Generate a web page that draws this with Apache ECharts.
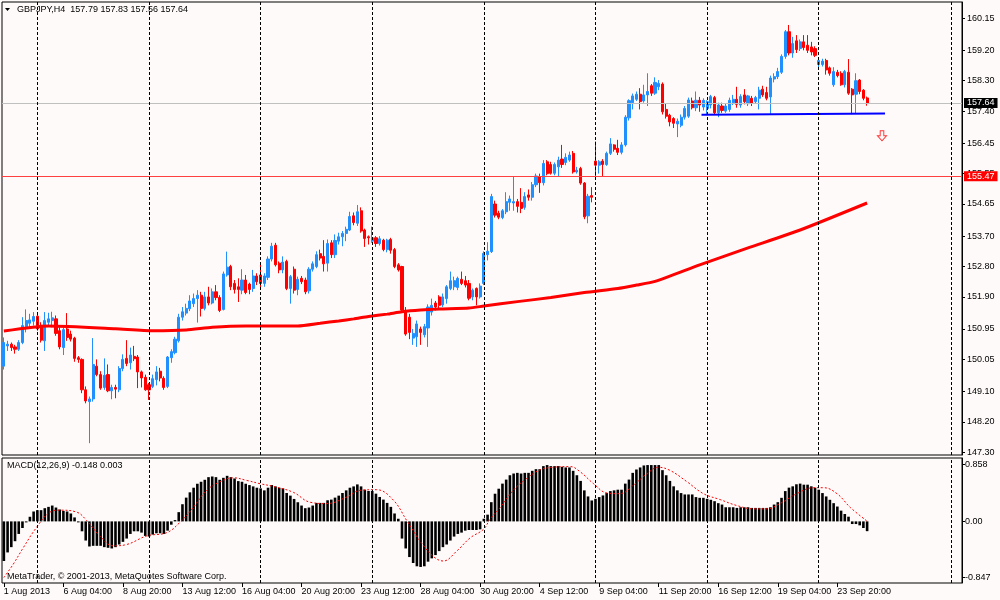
<!DOCTYPE html>
<html>
<head>
<meta charset="utf-8">
<title>GBPJPY,H4</title>
<script src="https://cdn.jsdelivr.net/npm/echarts@6/dist/echarts.min.js"></script>
<style>
  html, body { margin: 0; padding: 0; background: #fffafa; }
  #chart { width: 1000px; height: 600px; }
</style>
</head>
<body>
<div id="chart"></div>
<script>
// time axis labels, one every 16 bars (H4)
var xTickLabels = ['1 Aug 2013', '6 Aug 04:00', '8 Aug 20:00', '13 Aug 12:00', '16 Aug 04:00',
  '20 Aug 20:00', '23 Aug 12:00', '28 Aug 04:00', '30 Aug 20:00', '4 Sep 12:00', '9 Sep 04:00',
  '11 Sep 20:00', '16 Sep 12:00', '19 Sep 04:00', '23 Sep 20:00'];
var slotCount = 258; // 233 bars + empty room on the right

// OHLC, 233 bars
var opens = [
  149.85, 150.45, 150.50, 150.42, 150.35, 150.55, 150.98, 151.12, 151.18, 151.33,
  151.06, 150.60, 151.15, 151.20, 151.25, 150.90, 150.40, 150.95, 150.80, 150.68,
  150.10, 150.05, 149.15, 148.80, 148.88, 149.85, 149.60, 149.22, 149.60, 149.12,
  149.22, 149.15, 149.78, 150.08, 149.95, 150.14, 150.12, 149.68, 149.52, 149.30,
  149.25, 149.45, 149.70, 149.49, 149.25, 150.10, 150.25, 150.60, 151.30, 151.42,
  151.55, 151.70, 151.85, 151.95, 151.56, 151.90, 151.72, 152.05, 151.88, 151.53,
  152.55, 152.80, 152.30, 152.20, 152.10, 152.40, 152.28, 152.15, 152.52, 152.55,
  152.30, 152.48, 153.02, 153.43, 152.90, 152.70, 152.95, 152.15, 152.72, 152.12,
  152.45, 152.40, 152.08, 152.72, 152.80, 153.18, 153.10, 152.90, 153.50, 153.15,
  153.55, 153.68, 153.78, 153.88, 154.30, 154.08, 154.45, 153.88, 153.68, 153.55,
  153.65, 153.48, 153.58, 153.30, 153.60, 153.30, 152.85, 152.80, 151.50, 151.30,
  150.68, 150.72, 150.95, 150.78, 150.98, 151.45, 151.72, 151.90, 151.66, 151.85,
  152.15, 152.20, 152.18, 152.42, 152.38, 152.30, 151.90, 152.15, 151.90, 152.30,
  153.15, 153.24, 154.65, 154.38, 154.25, 154.42, 154.70, 154.68, 154.72, 154.70,
  154.55, 154.92, 154.85, 155.22, 155.45, 155.28, 155.90, 155.82, 155.56, 155.75,
  155.98, 155.88, 155.95, 156.15, 155.60, 155.70, 155.27, 154.30, 154.90, 155.92,
  155.80, 155.92, 155.82, 156.15, 156.40, 156.30, 156.18, 156.40, 157.20, 157.65,
  157.75, 157.90, 157.70, 157.88, 158.15, 157.93, 158.12, 158.20, 157.45, 157.28,
  157.18, 157.02, 156.98, 157.22, 157.25, 157.70, 157.50, 157.72, 157.52, 157.48,
  157.58, 157.80, 157.35, 157.55, 157.40, 157.45, 157.65, 157.75, 157.58, 157.88,
  157.62, 157.78, 157.68, 157.78, 158.05, 157.95, 157.82, 158.35, 158.42, 158.55,
  159.02, 159.75, 159.12, 159.48, 159.25, 159.45, 159.35, 159.30, 159.25, 158.78,
  158.78, 158.90, 158.68, 158.18, 158.55, 158.52, 158.18, 158.55, 158.05, 157.90,
  158.32, 158.02, 157.79
];
var highs = [
  150.70, 150.60, 150.55, 150.48, 150.62, 151.30, 151.53, 151.40, 151.45, 151.45,
  151.15, 151.45, 151.43, 151.46, 151.35, 151.00, 151.00, 151.42, 150.90, 150.72,
  150.15, 150.08, 149.25, 148.95, 150.68, 150.05, 149.70, 150.08, 149.90, 149.30,
  149.30, 149.85, 150.20, 150.62, 150.40, 150.45, 150.18, 149.72, 149.60, 149.35,
  149.60, 149.85, 149.80, 149.55, 150.15, 150.35, 150.72, 151.40, 151.60, 151.70,
  151.95, 152.00, 152.10, 152.05, 152.05, 152.20, 152.15, 152.25, 151.95, 152.65,
  153.24, 152.85, 152.40, 152.45, 152.72, 152.55, 152.32, 152.70, 152.60, 152.85,
  152.60, 153.10, 153.50, 153.50, 152.95, 153.10, 153.00, 152.55, 152.80, 152.50,
  152.52, 152.47, 152.78, 152.95, 153.25, 153.30, 153.58, 153.60, 153.58, 153.75,
  153.80, 153.85, 153.98, 154.42, 154.40, 154.62, 154.55, 153.92, 153.72, 153.98,
  153.70, 153.70, 153.62, 153.62, 153.65, 153.35, 152.90, 152.82, 151.60, 151.40,
  150.95, 151.20, 151.02, 151.10, 151.68, 151.85, 151.78, 151.95, 152.00, 152.25,
  152.65, 152.50, 152.50, 152.65, 152.52, 152.40, 152.15, 152.18, 152.30, 153.25,
  153.52, 154.95, 154.75, 154.45, 154.50, 155.00, 154.90, 155.46, 154.80, 155.12,
  155.00, 155.08, 155.30, 155.55, 155.55, 155.95, 155.95, 155.90, 155.88, 156.05,
  156.40, 156.15, 156.20, 156.22, 155.75, 155.75, 155.30, 154.95, 155.15, 156.50,
  155.95, 155.98, 156.20, 156.60, 156.42, 156.55, 156.48, 157.28, 157.75, 157.92,
  157.98, 158.08, 158.18, 158.52, 158.20, 158.40, 158.32, 158.25, 157.62, 157.32,
  157.22, 157.18, 157.30, 157.55, 157.80, 157.80, 157.98, 157.82, 157.78, 157.72,
  157.88, 157.85, 157.65, 157.65, 157.62, 157.80, 157.88, 158.12, 157.90, 158.05,
  157.88, 157.85, 157.85, 158.12, 158.15, 158.12, 158.45, 158.52, 158.68, 159.08,
  159.80, 159.95, 159.60, 159.65, 159.52, 159.65, 159.65, 159.45, 159.32, 158.98,
  158.95, 158.95, 158.72, 158.70, 158.62, 158.58, 158.62, 158.94, 158.08, 158.52,
  158.35, 158.05, 157.83
];
var lows = [
  149.75, 150.30, 150.30, 150.22, 150.30, 150.50, 150.85, 150.95, 151.05, 150.90,
  150.55, 150.30, 151.05, 151.00, 150.75, 150.35, 150.18, 150.60, 150.58, 149.98,
  149.95, 149.05, 148.75, 147.57, 148.80, 149.55, 149.15, 149.15, 149.08, 148.87,
  148.90, 149.08, 149.70, 149.85, 149.75, 150.00, 149.20, 149.22, 149.12, 148.85,
  149.20, 149.28, 149.40, 149.15, 149.20, 149.95, 150.20, 150.55, 151.20, 151.35,
  151.48, 151.60, 151.14, 151.32, 151.50, 151.65, 151.68, 151.80, 151.45, 151.50,
  152.50, 152.10, 152.00, 151.75, 151.98, 151.98, 151.98, 152.05, 152.25, 152.15,
  152.20, 152.40, 152.95, 152.80, 152.60, 152.60, 152.10, 151.70, 152.00, 151.95,
  152.28, 151.98, 152.00, 152.65, 152.75, 152.98, 152.65, 152.65, 153.05, 153.05,
  153.45, 153.40, 153.55, 153.85, 154.02, 154.00, 153.80, 153.38, 153.45, 153.50,
  153.38, 153.42, 153.25, 153.22, 153.18, 152.75, 152.65, 151.45, 150.75, 150.65,
  150.48, 150.42, 150.48, 150.70, 150.42, 151.35, 151.50, 151.55, 151.60, 151.70,
  152.10, 152.10, 152.10, 152.25, 152.18, 151.80, 151.80, 151.65, 151.85, 152.25,
  152.98, 153.20, 154.25, 154.20, 154.20, 154.35, 154.45, 154.45, 154.40, 154.38,
  154.48, 154.75, 154.75, 155.15, 154.98, 155.20, 155.50, 155.52, 155.50, 155.45,
  155.72, 155.80, 155.90, 155.55, 155.55, 155.22, 154.20, 154.08, 154.70, 155.46,
  155.55, 155.48, 155.78, 156.10, 156.20, 156.10, 156.12, 156.35, 157.12, 157.45,
  157.70, 157.45, 157.65, 157.55, 157.85, 157.88, 158.02, 157.30, 157.18, 156.95,
  156.90, 156.63, 156.92, 157.15, 157.20, 157.45, 157.40, 157.38, 157.42, 157.28,
  157.48, 157.30, 157.22, 157.35, 157.35, 157.38, 157.58, 157.50, 157.50, 157.60,
  157.55, 157.55, 157.62, 157.45, 157.82, 157.72, 157.32, 158.25, 158.35, 158.50,
  158.95, 159.05, 158.98, 159.12, 159.18, 159.20, 159.12, 159.05, 159.00, 158.70,
  158.72, 158.48, 158.45, 158.12, 158.40, 158.15, 158.10, 157.88, 157.31, 157.32,
  157.90, 157.72, 157.56
];
var closes = [
  150.55, 150.50, 150.40, 150.35, 150.55, 151.05, 151.20, 151.22, 151.32, 150.95,
  150.62, 151.20, 151.25, 151.28, 150.82, 150.42, 150.93, 150.70, 150.65, 150.08,
  150.05, 149.15, 148.82, 148.88, 149.90, 149.60, 149.20, 149.58, 149.12, 149.22,
  149.17, 149.78, 150.05, 149.93, 150.18, 150.07, 149.68, 149.50, 149.15, 149.15,
  149.48, 149.68, 149.50, 149.22, 150.12, 150.28, 150.65, 151.30, 151.46, 151.56,
  151.78, 151.85, 151.95, 151.56, 151.90, 151.72, 152.05, 151.88, 151.50, 152.58,
  152.78, 152.20, 152.12, 152.12, 152.40, 152.03, 152.12, 152.52, 152.35, 152.30,
  152.52, 153.02, 153.40, 152.85, 152.70, 152.93, 152.15, 152.50, 152.10, 152.42,
  152.35, 152.05, 152.72, 152.88, 153.15, 153.05, 152.88, 153.48, 153.15, 153.57,
  153.68, 153.78, 153.90, 154.28, 154.10, 154.42, 153.85, 153.63, 153.65, 153.65,
  153.48, 153.62, 153.30, 153.58, 153.28, 152.80, 152.70, 151.51, 150.80, 150.85,
  150.82, 151.10, 150.85, 151.02, 151.60, 151.65, 151.60, 151.65, 151.90, 152.20,
  152.38, 152.38, 152.45, 152.30, 152.25, 151.86, 152.10, 151.90, 152.22, 153.19,
  153.25, 154.87, 154.32, 154.26, 154.45, 154.72, 154.80, 154.72, 154.58, 154.52,
  154.87, 154.85, 155.22, 155.48, 155.28, 155.85, 155.55, 155.56, 155.82, 155.95,
  155.82, 156.03, 156.10, 155.60, 155.65, 155.27, 154.27, 154.88, 154.85, 155.80,
  155.90, 155.82, 156.15, 156.43, 156.27, 156.18, 156.40, 157.22, 157.71, 157.85,
  157.90, 157.68, 157.88, 157.98, 157.93, 158.25, 158.22, 157.38, 157.25, 157.08,
  157.04, 157.10, 157.22, 157.48, 157.73, 157.50, 157.72, 157.58, 157.72, 157.68,
  157.83, 157.35, 157.58, 157.42, 157.55, 157.72, 157.75, 157.60, 157.83, 157.68,
  157.85, 157.63, 157.80, 158.02, 157.88, 157.78, 158.38, 158.42, 158.57, 159.02,
  159.75, 159.12, 159.40, 159.22, 159.45, 159.28, 159.20, 159.15, 159.05, 158.90,
  158.88, 158.62, 158.52, 158.57, 158.45, 158.18, 158.57, 157.93, 157.88, 158.30,
  157.98, 157.78, 157.64
];

// moving average, read at points along the curve: [bar, price]
var maLine = [[0, 150.89], [12, 151.04], [30, 150.96], [40, 150.90], [49, 150.92], [56, 151.00],
  [65, 151.04], [79, 151.04], [85, 151.12], [90, 151.19], [94, 151.25], [98, 151.32],
  [103, 151.39], [107, 151.46], [112, 151.51], [117, 151.54], [125, 151.57], [129, 151.63],
  [138, 151.76], [147, 151.88], [156, 152.03], [165, 152.15], [170, 152.25], [175, 152.36],
  [187, 152.85], [200, 153.35], [214, 153.88], [232, 154.68]];

// MACD histogram, one value per bar
var macdHist = [
  -0.60, -0.47, -0.39, -0.30, -0.19, -0.10, -0.015, 0.07, 0.15, 0.17,
  0.17, 0.20, 0.22, 0.24, 0.21, 0.18, 0.16, 0.15, 0.12, 0.06,
  -0.015, -0.15, -0.29, -0.38, -0.37, -0.37, -0.37, -0.39, -0.40, -0.41,
  -0.39, -0.35, -0.31, -0.26, -0.19, -0.15, -0.15, -0.17, -0.22, -0.23,
  -0.20, -0.18, -0.18, -0.19, -0.14, -0.05, 0.02, 0.14, 0.26, 0.36,
  0.44, 0.51, 0.57, 0.60, 0.63, 0.67, 0.68, 0.67, 0.63, 0.66,
  0.69, 0.67, 0.65, 0.61, 0.60, 0.57, 0.55, 0.53, 0.51, 0.50,
  0.47, 0.51, 0.55, 0.53, 0.51, 0.50, 0.43, 0.39, 0.34, 0.29,
  0.24, 0.20, 0.21, 0.24, 0.28, 0.28, 0.28, 0.32, 0.33, 0.36,
  0.39, 0.43, 0.47, 0.51, 0.53, 0.56, 0.53, 0.48, 0.46, 0.46,
  0.42, 0.37, 0.33, 0.28, 0.22, 0.12, 0.04, -0.26, -0.41, -0.54,
  -0.63, -0.68, -0.69, -0.68, -0.61, -0.56, -0.51, -0.45, -0.39, -0.35,
  -0.29, -0.23, -0.19, -0.17, -0.14, -0.13, -0.13, -0.13, -0.12, 0.04,
  0.102, 0.291, 0.419, 0.495, 0.572, 0.633, 0.699, 0.725, 0.735, 0.725,
  0.735, 0.735, 0.766, 0.791, 0.791, 0.837, 0.853, 0.837, 0.837, 0.837,
  0.827, 0.817, 0.817, 0.766, 0.699, 0.613, 0.470, 0.378, 0.317, 0.342,
  0.368, 0.393, 0.429, 0.459, 0.470, 0.480, 0.480, 0.572, 0.633, 0.735,
  0.786, 0.817, 0.847, 0.853, 0.853, 0.853, 0.853, 0.776, 0.699, 0.613,
  0.531, 0.470, 0.429, 0.408, 0.408, 0.408, 0.368, 0.357, 0.357, 0.342,
  0.327, 0.306, 0.276, 0.255, 0.214, 0.214, 0.214, 0.204, 0.214, 0.214,
  0.214, 0.204, 0.204, 0.204, 0.204, 0.204, 0.214, 0.255, 0.291, 0.357,
  0.459, 0.511, 0.531, 0.562, 0.572, 0.556, 0.556, 0.531, 0.511, 0.480,
  0.429, 0.378, 0.327, 0.276, 0.225, 0.163, 0.112, 0.071, -0.04, -0.04,
  -0.06, -0.10, -0.148
];

// MACD signal line, read at points: [bar, value]
var macdSignal = [[0, -0.85], [2.5, -0.65], [5.2, -0.40], [8.8, -0.09], [12.4, 0.14], [15.1, 0.17],
  [19.6, 0.14], [22.3, 0.01], [25.8, -0.22], [29.4, -0.37], [33, -0.35], [38.4, -0.22],
  [43.8, -0.17], [47.3, -0.015], [50.9, 0.21], [54.5, 0.47], [58.1, 0.60], [61.7, 0.66],
  [65.3, 0.62], [68.9, 0.57], [72.4, 0.53], [77.8, 0.44], [82.3, 0.29], [86.8, 0.27],
  [92.2, 0.37], [95.7, 0.47], [100.2, 0.48], [104.7, 0.32], [108.3, 0.01], [111.9, -0.30],
  [115.4, -0.53], [118.1, -0.60], [121.7, -0.45], [125.3, -0.25], [128.9, -0.12],
  [130.7, 0.036], [133.4, 0.21], [136.9, 0.47], [140.5, 0.65], [144.1, 0.78], [147.7, 0.82],
  [152.2, 0.83], [154.9, 0.75], [158.5, 0.57], [162.1, 0.43], [165.6, 0.42], [169.2, 0.55],
  [172.8, 0.72], [175.9, 0.82], [179.1, 0.77], [183.6, 0.60], [188, 0.42], [192.5, 0.33],
  [197, 0.24], [201.5, 0.19], [205.1, 0.19], [208.6, 0.27], [213.1, 0.42], [217.6, 0.51],
  [220.3, 0.51], [223.9, 0.42], [227.5, 0.21], [232, 0.003]];

// axis ticks
var priceTicks = [147.30, 148.20, 149.10, 150.05, 150.95, 151.90, 152.80, 153.70, 154.65,
  155.55, 156.45, 157.40, 158.30, 159.20, 160.15];
var macdTicks = [-0.847, 0, 0.858];
var macdTickLabels = ['-0.847', '0.00', '0.858'];

// chart objects
var weekStarts = [9, 39, 69, 99, 129, 159, 189, 219, 254.6];
var bidPrice = 157.64;
var levelPrice = 155.47;
var trendLine = [[187.5, 157.29], [236.8, 157.33]];
var sellArrow = [236, 156.67];

var bull = '#2090ff';
var bear = '#ff0000';
var font = 'Liberation Sans';
var txt = { fontFamily: font, fontSize: 9, color: '#000' };

var cats = [];
for (var i = 0; i < slotCount; i++) cats.push(String(i));

var candleData = [];
for (var i = 0; i < opens.length; i++) {
  candleData.push([opens[i], closes[i], lows[i], highs[i]]);
}
// histogram as [bar, value] so it can sit on the value x axis
var histData = macdHist.map(function (v, i) { return [i, v]; });

var last = opens.length - 1;
var titleText = 'GBPJPY,H4  ' + [opens[last], highs[last], lows[last], closes[last]]
  .map(function (v) { return v.toFixed(2); }).join(' ');
var macdText = 'MACD(12,26,9) ' + macdHist[last].toFixed(3) + ' ' +
  macdSignal[macdSignal.length - 1][1].toFixed(3);

function tickAt(index) {
  return index % 16 === 0 && index / 16 < xTickLabels.length;
}

// a fresh marker object for each pane
function dashLine() {
  return {
    silent: true, symbol: 'none', label: { show: false },
    lineStyle: { color: '#000', width: 1, type: [3, 2] },
    data: weekStarts.map(function (v) { return { xAxis: v }; })
  };
}

function priceLabel(bg) {
  return {
    show: true, position: 'end', distance: 2, color: '#fff', backgroundColor: bg,
    padding: [1, 3, 0, 3], fontFamily: font, fontSize: 9,
    formatter: function (p) { return p.value.toFixed(2); }
  };
}

// MACD histogram bars drawn from zero through the axes
function renderHist(params, api) {
  var x = api.value(0);
  var top = api.coord([x, api.value(1)]);
  var base = api.coord([x, 0]);
  var w = api.size([1, 0])[0] * 0.7;
  return {
    type: 'rect',
    shape: { x: top[0] - w / 2, y: Math.min(top[1], base[1]), width: w, height: Math.abs(base[1] - top[1]) },
    style: { fill: '#000' }
  };
}

var chart = echarts.init(document.getElementById('chart'));

var option = {
  backgroundColor: '#fffafa',
  animation: false,
  textStyle: { fontFamily: font },
  grid: [
    { left: 2, top: 2, width: 960, height: 453, show: true, borderColor: '#000', borderWidth: 1 },
    { left: 2, top: 458, width: 960, height: 125, show: true, borderColor: '#000', borderWidth: 1 }
  ],
  xAxis: [
    { type: 'category', gridIndex: 0, data: cats, boundaryGap: true,
      axisLine: { show: false }, axisTick: { show: false }, axisLabel: { show: false }, splitLine: { show: false } },
    { type: 'value', gridIndex: 0, min: -0.5, max: slotCount - 0.5, show: false },
    { type: 'category', gridIndex: 1, data: cats, boundaryGap: true,
      axisLine: { show: false, onZero: false },
      axisTick: { show: true, alignWithLabel: true, length: 4, interval: tickAt, lineStyle: { color: '#000' } },
      axisLabel: Object.assign({
        interval: tickAt, align: 'left', margin: 4,
        formatter: function (v, idx) { return xTickLabels[idx / 16] || ''; }
      }, txt),
      splitLine: { show: false } },
    { type: 'value', gridIndex: 1, min: -0.5, max: slotCount - 0.5, show: false,
      axisLine: { show: false, onZero: false } }
  ],
  yAxis: [
    { type: 'value', gridIndex: 0, position: 'right', min: 147.22, max: 160.63,
      splitLine: { show: false },
      axisLine: { show: true, onZero: false, lineStyle: { color: '#000' } },
      axisTick: { show: true, length: 3, customValues: priceTicks, lineStyle: { color: '#000' } },
      axisLabel: Object.assign({
        customValues: priceTicks, margin: 5,
        formatter: function (v) { return v.toFixed(2); }
      }, txt) },
    { type: 'value', gridIndex: 1, position: 'right', min: -0.933, max: 0.96,
      splitLine: { show: false },
      axisLine: { show: true, onZero: false, lineStyle: { color: '#000' } },
      axisTick: { show: true, length: 3, customValues: macdTicks, lineStyle: { color: '#000' } },
      axisLabel: Object.assign({
        customValues: macdTicks, margin: 3,
        formatter: function (v) { return macdTickLabels[macdTicks.indexOf(v)]; }
      }, txt) }
  ],
  graphic: [
    { type: 'polygon', shape: { points: [[5, 8], [10, 8], [7.5, 11]] }, style: { fill: '#000' } },
    { type: 'text', left: 17, top: 5, style: { text: titleText, font: '9px "Liberation Sans"', fill: '#000' } },
    { type: 'text', left: 7, top: 461, style: { text: macdText, font: '9px "Liberation Sans"', fill: '#000' } },
    { type: 'text', left: 7, top: 572, z: 10,
      style: { text: 'MetaTrader, © 2001-2013, MetaQuotes Software Corp.', font: '9px "Liberation Sans"', fill: '#000' } }
  ],
  series: [
    {
      type: 'candlestick', xAxisIndex: 0, yAxisIndex: 0, data: candleData, barWidth: 2.6,
      itemStyle: { color: bull, color0: bear, borderColor: bull, borderColor0: bear, borderWidth: 1 },
      markLine: {
        silent: true, symbol: 'none',
        data: [
          { yAxis: bidPrice, lineStyle: { color: '#c0c0c0', type: 'solid', width: 1 }, label: priceLabel('#000') },
          { yAxis: levelPrice, lineStyle: { color: '#ff4040', type: 'solid', width: 1 }, label: priceLabel('#ff0000') }
        ]
      }
    },
    { type: 'line', xAxisIndex: 1, yAxisIndex: 0, data: maLine, smooth: 0.2, symbol: 'none',
      lineStyle: { color: '#ff0000', width: 3 }, z: 3, markLine: dashLine() },
    { type: 'line', xAxisIndex: 1, yAxisIndex: 0, data: trendLine, symbol: 'none',
      lineStyle: { color: '#0000ff', width: 2 }, z: 4 },
    { type: 'scatter', xAxisIndex: 1, yAxisIndex: 0, data: [sellArrow], z: 4,
      symbol: 'path://M3,0 L7,0 L7,5 L10,5 L5,10 L0,5 L3,5 Z', symbolSize: [9, 10],
      itemStyle: { color: '#fffafa', borderColor: '#ff0000', borderWidth: 1 } },
    // MACD pane
    { type: 'custom', xAxisIndex: 3, yAxisIndex: 1, data: histData, renderItem: renderHist,
      encode: { x: 0, y: 1 } },
    { type: 'line', xAxisIndex: 3, yAxisIndex: 1, data: macdSignal, smooth: 0.4, symbol: 'none',
      lineStyle: { color: '#ff0000', width: 1, type: [2, 2] }, z: 3, markLine: dashLine() }
  ]
};

chart.setOption(option);
</script>
</body>
</html>
